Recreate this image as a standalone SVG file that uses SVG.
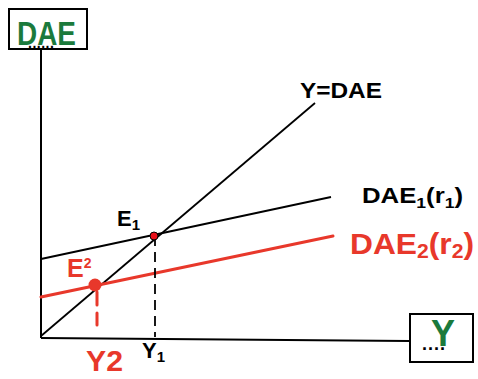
<svg xmlns="http://www.w3.org/2000/svg" width="478" height="379" viewBox="0 0 478 379">
<style>
.ax{stroke:#000;stroke-width:2;fill:none}
.ln{stroke:#000;stroke-width:1.8;fill:none}
.red{stroke:#e8382b;stroke-width:3;fill:none;stroke-linecap:round}
.box{fill:#fff;stroke:#000;stroke-width:2}
.lbl{font-family:"Liberation Sans",Arial,sans-serif;fill:#000}
.b{font-weight:bold}
.rt{font-family:"Liberation Sans",Arial,sans-serif;fill:#e8382b;font-weight:bold}
.gt{font-family:"Liberation Sans",Arial,sans-serif;fill:#1b7a3c;font-weight:bold}
</style>
<rect width="478" height="379" fill="#fff"/>
<g id="connectors">
<line class="ax" x1="41" y1="49" x2="41" y2="338"/>
<line class="ax" x1="41" y1="338" x2="409" y2="341"/>
<line class="ln" x1="41" y1="336" x2="315" y2="103"/>
<line class="ln" x1="41" y1="259" x2="331" y2="197"/>
<line class="red" x1="41" y1="297" x2="333" y2="236"/>
<line class="ln" x1="155" y1="236" x2="155" y2="337" stroke-dasharray="10,6"/>
<line class="red" x1="97" y1="292" x2="97" y2="305"/>
<line class="red" x1="97" y1="313" x2="97" y2="325"/>
</g>
<g id="dae-box">
<rect class="box" x="9" y="9" width="78" height="40"/>
<text class="lbl b" x="28" y="48" font-size="14" letter-spacing="0.5">......</text>
<text class="gt" x="17" y="45" font-size="34" textLength="59" lengthAdjust="spacingAndGlyphs">DAE</text>
</g>
<g id="y-box">
<rect class="box" x="410" y="314" width="63" height="48"/>
<text class="lbl b" x="422" y="350" font-size="18" letter-spacing="1">....</text>
<text class="gt" x="431" y="346" font-size="36" textLength="24" lengthAdjust="spacingAndGlyphs">Y</text>
</g>
<g id="y-dae-label">
<text class="lbl b" x="300" y="98" font-size="22" textLength="82" lengthAdjust="spacingAndGlyphs">Y=DAE</text>
</g>
<g id="dae1-label">
<text class="lbl b" x="362" y="203" font-size="22" textLength="101" lengthAdjust="spacingAndGlyphs">DAE<tspan font-size="15" dy="5">1</tspan><tspan dy="-5">(r</tspan><tspan font-size="15" dy="5">1</tspan><tspan dy="-5">)</tspan></text>
</g>
<g id="dae2-label">
<text class="rt" x="350" y="254" font-size="30" textLength="124" lengthAdjust="spacingAndGlyphs">DAE<tspan font-size="20" dy="4">2</tspan><tspan dy="-4">(r</tspan><tspan font-size="20" dy="4">2</tspan><tspan dy="-4">)</tspan></text>
</g>
<g id="e1">
<circle cx="154" cy="236" r="4" fill="#e8101a" stroke="#000" stroke-width="1"/>
<text class="lbl b" x="117" y="226" font-size="22">E<tspan font-size="15" dy="4">1</tspan></text>
</g>
<g id="e2">
<circle cx="95" cy="285" r="6.5" fill="#e8382b"/>
<text class="rt" x="67" y="277" font-size="25">E<tspan font-size="14" dy="-9">2</tspan></text>
</g>
<g id="y1-label">
<text class="lbl b" x="142" y="358" font-size="22">Y<tspan font-size="15" dy="4">1</tspan></text>
</g>
<g id="y2-label">
<text class="rt" x="86" y="371" font-size="29" textLength="37" lengthAdjust="spacingAndGlyphs">Y2</text>
</g>
</svg>
